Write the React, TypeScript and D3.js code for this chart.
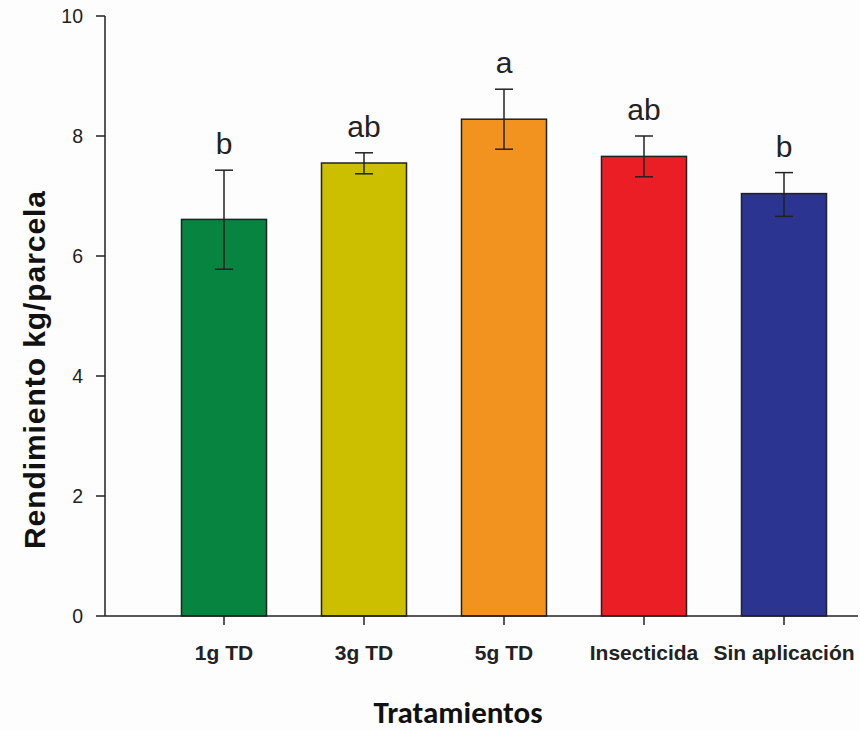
import React from "react";
import * as d3 from "d3";

const categories = ["1g TD", "3g TD", "5g TD", "Insecticida", "Sin aplicación"];
const means = [6.61, 7.55, 8.28, 7.66, 7.04];
const errUpper = [7.43, 7.72, 8.78, 8.0, 7.39];
const errLower = [5.78, 7.37, 7.78, 7.32, 6.66];
const letters = ["b", "ab", "a", "ab", "b"];
const colors = ["#07843f", "#cbbf00", "#f3931f", "#eb1d25", "#2b3491"];
const yTicks = [0, 2, 4, 6, 8, 10];

export default function App() {
  const W = 860, H = 730;
  const x0 = 105, x1 = 858, yTop = 16, yBot = 616;
  const y = d3.scaleLinear().domain([0, 10]).range([yBot, yTop]);
  const x = d3.scaleBand<string>().domain(categories).range([154, 854]).paddingInner(55 / 140).paddingOuter(55 / 280);
  const bw = x.bandwidth();
  const font = "'Liberation Sans', Arial, sans-serif";
  return (
    <svg width={W} height={H} style={{ position: "absolute", left: 0, top: 0, background: "#fdfdfd" }}>
      <rect x={0} y={0} width={W} height={H} fill="#fdfdfd" />
      {categories.map((c, i) => {
        const cx = (x(c) as number) + bw / 2;
        return (
          <g key={c}>
            <rect x={x(c)} y={y(means[i])} width={bw} height={yBot - y(means[i])} fill={colors[i]} stroke="#222" strokeWidth={1.5} />
            <line x1={cx} x2={cx} y1={y(errUpper[i])} y2={y(errLower[i])} stroke="#222" strokeWidth={1.5} />
            <line x1={cx - 9} x2={cx + 9} y1={y(errUpper[i])} y2={y(errUpper[i])} stroke="#222" strokeWidth={1.5} />
            <line x1={cx - 9} x2={cx + 9} y1={y(errLower[i])} y2={y(errLower[i])} stroke="#222" strokeWidth={1.5} />
            <text x={cx} y={y(errUpper[i]) - 16} textAnchor="middle" fontFamily={font} fontSize={30} fill="#222">{letters[i]}</text>
            <line x1={cx} x2={cx} y1={yBot} y2={yBot + 9} stroke="#222" strokeWidth={1.5} />
            <text x={cx} y={660} textAnchor="middle" fontFamily={font} fontSize={21} fontWeight="bold" fill="#222">{c}</text>
          </g>
        );
      })}
      <line x1={x0} x2={x0} y1={yTop} y2={yBot} stroke="#222" strokeWidth={1.5} />
      <line x1={x0} x2={x1} y1={yBot} y2={yBot} stroke="#222" strokeWidth={1.5} />
      {yTicks.map((t) => (
        <g key={t}>
          <line x1={x0 - 9} x2={x0} y1={y(t)} y2={y(t)} stroke="#222" strokeWidth={1.5} />
          <text x={x0 - 22} y={y(t) + 7} textAnchor="end" fontFamily={font} fontSize={19.5} fill="#222">{t}</text>
        </g>
      ))}
      <text transform={`translate(45, 370) rotate(-90)`} textAnchor="middle" fontFamily={font} fontSize={30} fontWeight="bold" fill="#111" textLength={358} lengthAdjust="spacing">Rendimiento kg/parcela</text>
      <text x={458} y={723} textAnchor="middle" fontFamily="Carlito, Lato, 'Open Sans', sans-serif" fontSize={31} fontWeight="bold" fill="#111">Tratamientos</text>
    </svg>
  );
}
